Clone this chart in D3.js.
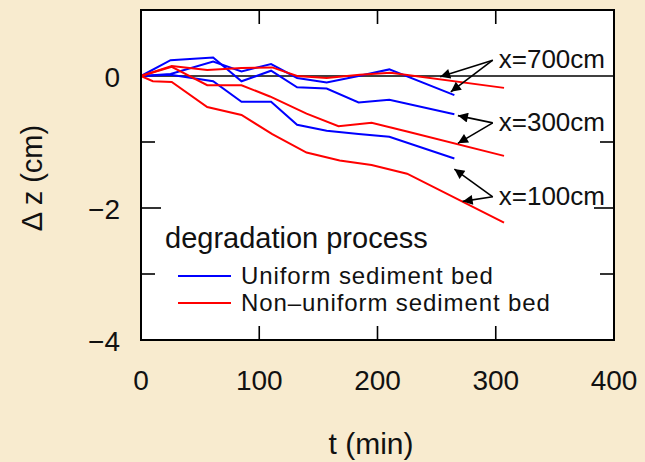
<!DOCTYPE html>
<html>
<head>
<meta charset="utf-8">
<script src="https://cdn.jsdelivr.net/npm/d3@7"></script>
<style>
  body { margin: 0; background: #f8ebcf; }
  svg { display: block; }
  text { font-family: "Liberation Sans", Arial, sans-serif; fill: #111; }
</style>
</head>
<body>
<svg id="chart"></svg>
<script>
var width = 645;
var height = 462;
var margins = { left: 141, right: 31, top: 10, bottom: 122 };

// uniform sediment bed (blue)
var tUniform = [0, 25, 61, 85, 110, 132, 157, 184, 210, 265];
var uniform700 = [0, 0.03, 0.22, 0.07, 0.18, -0.03, -0.10, 0, 0.10, -0.29];
var uniform300 = [0, 0.24, 0.28, -0.08, 0.08, -0.17, -0.19, -0.40, -0.36, -0.58];
var uniform100 = [0, 0.02, -0.08, -0.39, -0.39, -0.74, -0.83, -0.88, -0.92, -1.25];

// non-uniform sediment bed (red)
var tNonUniform700 = [0, 26, 56, 85, 111, 132, 157, 185, 211, 307];
var nonUniform700 = [0, 0.15, 0.09, 0.12, 0.13, 0, -0.03, 0.02, 0.05, -0.18];
var tNonUniform300 = [0, 26, 56, 85, 109, 140, 167, 195, 225, 307];
var nonUniform300 = [0, 0.14, -0.14, -0.14, -0.31, -0.57, -0.76, -0.71, -0.84, -1.21];
var tNonUniform100 = [0, 10, 26, 56, 85, 111, 140, 168, 195, 225, 307];
var nonUniform100 = [0, -0.08, -0.09, -0.47, -0.59, -0.88, -1.16, -1.28, -1.35, -1.48, -2.22];

var xTicks = [0, 100, 200, 300, 400];
var yTickLabels = [0, -2, -4];
var yMinorTicks = [-1, -3];

// annotation: label, text anchor point (t, z), arrow targets (t, z)
var notes = [
    { label: "x=700cm", at: [300, 0.24], targets: [[253, -0.01], [262, -0.24]] },
    { label: "x=300cm", at: [300, -0.71], targets: [[268, -0.60], [268, -1.02]] },
    { label: "x=100cm", at: [300, -1.83], targets: [[265, -1.41], [272, -1.90]] }
];

var series = [
    { t: tUniform, z: uniform700, color: "#0000ff" },
    { t: tUniform, z: uniform300, color: "#0000ff" },
    { t: tUniform, z: uniform100, color: "#0000ff" },
    { t: tNonUniform700, z: nonUniform700, color: "#ff0000" },
    { t: tNonUniform300, z: nonUniform300, color: "#ff0000" },
    { t: tNonUniform100, z: nonUniform100, color: "#ff0000" }
];

var xscale = d3.scaleLinear()
                .domain([0, 400])
                .range([margins.left, width - margins.right]);
var yscale = d3.scaleLinear()
                .domain([-4, 1])
                .range([height - margins.bottom, margins.top]);

var svg = d3.select("#chart")
            .attr("width", width)
            .attr("height", height);

svg.append("defs").append("marker")
        .attr("id", "head")
        .attr("viewBox", "0 0 10 10")
        .attr("refX", 10).attr("refY", 5)
        .attr("markerWidth", 14).attr("markerHeight", 10)
        .attr("markerUnits", "userSpaceOnUse")
        .attr("orient", "auto")
      .append("path")
        .attr("d", "M0,0L10,5L0,10z")
        .attr("fill", "#000");

// plot area
svg.append("rect")
        .attr("x", xscale(0)).attr("y", yscale(1))
        .attr("width", xscale(400) - xscale(0))
        .attr("height", yscale(-4) - yscale(1))
        .attr("fill", "#fff");

// zero line
svg.append("line")
        .attr("x1", xscale(0)).attr("x2", xscale(400))
        .attr("y1", yscale(0)).attr("y2", yscale(0))
        .attr("stroke", "#000").attr("stroke-width", 1.6);

// data lines
var line = d3.line()
        .x(function(d){ return xscale(d[0]); })
        .y(function(d){ return yscale(d[1]); });
svg.selectAll("path.series")
        .data(series)
        .enter().append("path")
        .attr("class", "series")
        .attr("d", function(s){ return line(s.t.map(function(t, i){ return [t, s.z[i]]; })); })
        .attr("fill", "none")
        .attr("stroke", function(s){ return s.color; })
        .attr("stroke-width", 2);

// inner ticks on all four sides
var xInner = xTicks.slice(1, -1);
var ticks = svg.append("g").attr("stroke", "#000").attr("stroke-width", 1.6);
xInner.forEach(function(v){
    ticks.append("line").attr("x1", xscale(v)).attr("x2", xscale(v))
        .attr("y1", yscale(-4)).attr("y2", yscale(-4) - 14);
    ticks.append("line").attr("x1", xscale(v)).attr("x2", xscale(v))
        .attr("y1", yscale(1)).attr("y2", yscale(1) + 14);
});
[-1, -2, -3].forEach(function(v){
    var len = yMinorTicks.indexOf(v) >= 0 ? 14 : 20;
    ticks.append("line").attr("x1", xscale(0)).attr("x2", xscale(0) + len)
        .attr("y1", yscale(v)).attr("y2", yscale(v));
    ticks.append("line").attr("x1", xscale(400)).attr("x2", xscale(400) - len)
        .attr("y1", yscale(v)).attr("y2", yscale(v));
});

// frame
svg.append("rect")
        .attr("x", xscale(0)).attr("y", yscale(1))
        .attr("width", xscale(400) - xscale(0))
        .attr("height", yscale(-4) - yscale(1))
        .attr("fill", "none")
        .attr("stroke", "#000").attr("stroke-width", 2);

// tick labels
svg.selectAll("text.xtick")
        .data(xTicks)
        .enter().append("text")
        .attr("x", function(d){ return xscale(d); })
        .attr("y", 390)
        .attr("text-anchor", "middle")
        .style("font-size", "28px")
        .text(function(d){ return d; });
svg.selectAll("text.ytick")
        .data(yTickLabels)
        .enter().append("text")
        .attr("x", 120)
        .attr("y", function(d){ return yscale(d) + 11; })
        .attr("text-anchor", "end")
        .style("font-size", "28px")
        .text(function(d){ return d < 0 ? "\u2212" + Math.abs(d) : d; });

// axis titles
svg.append("text")
        .attr("x", 371).attr("y", 454)
        .attr("text-anchor", "middle")
        .style("font-size", "30px")
        .text("t (min)");
svg.append("text")
        .attr("transform", "translate(42,178) rotate(-90)")
        .attr("text-anchor", "middle")
        .style("font-size", "29px")
        .text("\u0394 z (cm)");

// legend
svg.append("text")
        .attr("x", 165).attr("y", 248)
        .style("font-size", "29px")
        .text("degradation process");
var legendItems = [
    { label: "Uniform sediment bed", color: "#0000ff", y: 276 },
    { label: "Non\u2013uniform sediment bed", color: "#ff0000", y: 303 }
];
legendItems.forEach(function(d){
    svg.append("line")
        .attr("x1", 178).attr("x2", 231)
        .attr("y1", d.y).attr("y2", d.y)
        .attr("stroke", d.color).attr("stroke-width", 2);
    svg.append("text")
        .attr("x", 241).attr("y", d.y + 8)
        .style("font-size", "24px")
        .style("letter-spacing", "0.9px")
        .text(d.label);
});

// annotations
notes.forEach(function(n){
    var ox = xscale(n.at[0]) - 3, oy = yscale(n.at[1]);
    n.targets.forEach(function(tg){
        svg.append("line")
            .attr("x1", ox).attr("y1", oy)
            .attr("x2", xscale(tg[0])).attr("y2", yscale(tg[1]))
            .attr("stroke", "#000").attr("stroke-width", 1.6)
            .attr("marker-end", "url(#head)");
    });
    svg.append("text")
        .attr("x", xscale(n.at[0]) + 3).attr("y", oy + 8)
        .style("font-size", "26px")
        .text(n.label);
});
</script>
</body>
</html>
